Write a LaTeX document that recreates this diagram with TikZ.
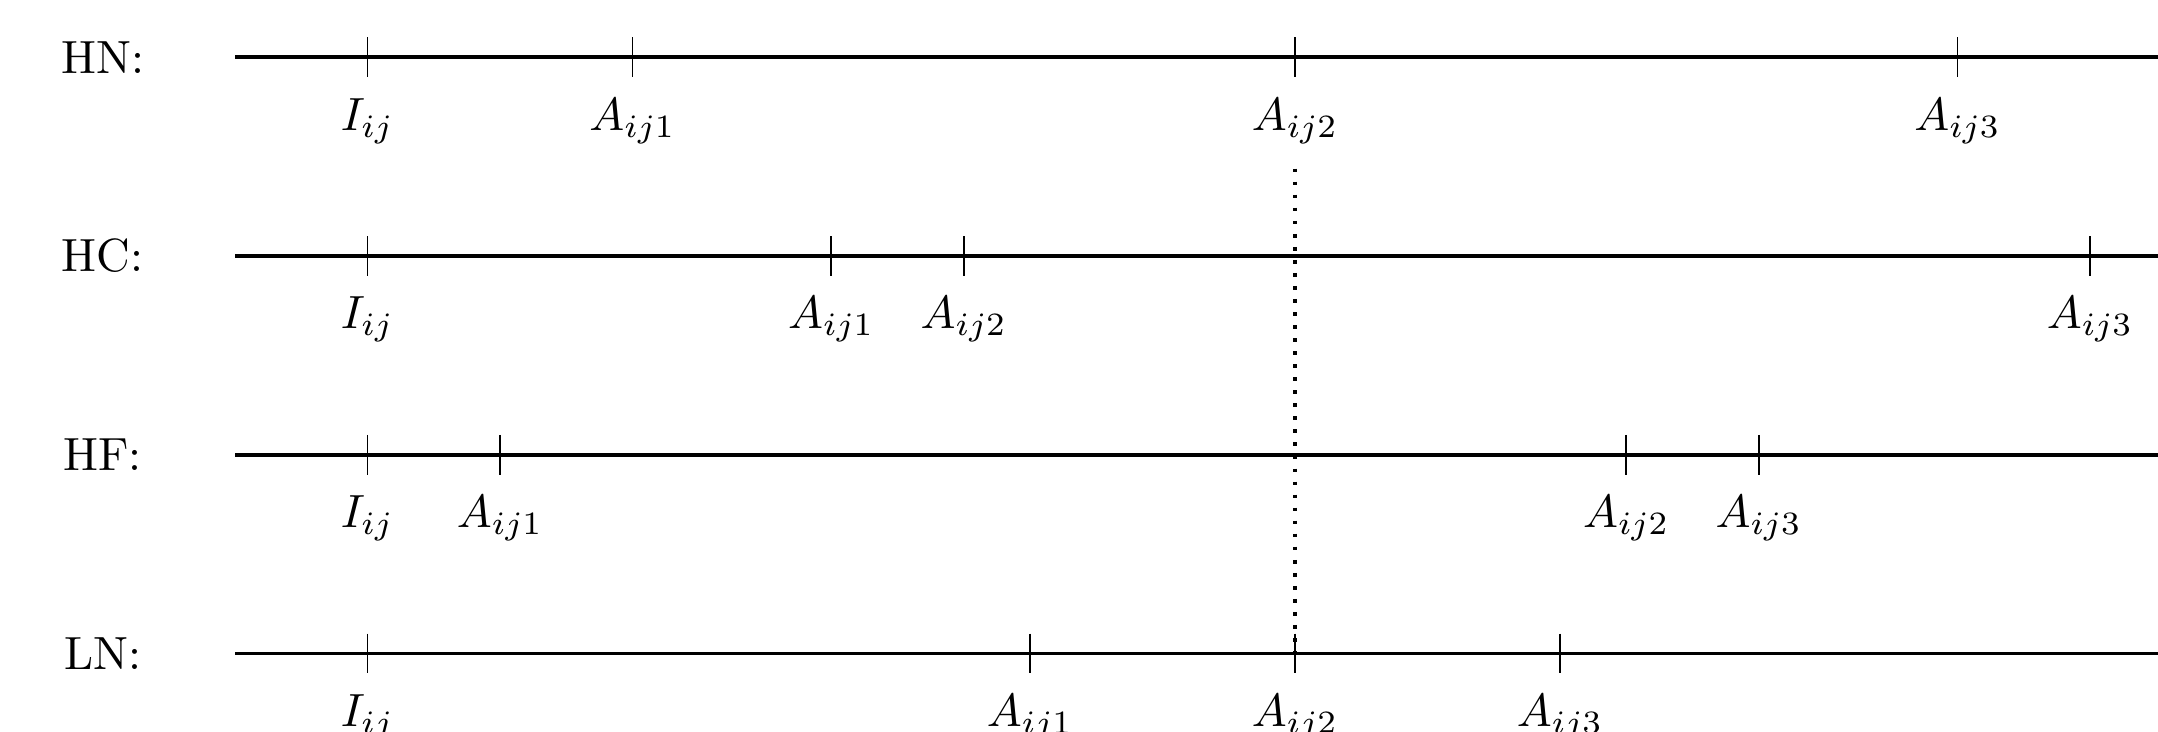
\documentclass[tikz,border=0pt]{standalone}
\usepackage{amsmath,amssymb}
\usepackage{tikz}
\usetikzlibrary{positioning}

\begin{document}
\begin{tikzpicture}[
  axis/.style={thick},
  tick/.style={thin},
  lab/.style={below, yshift=-1pt},
  guide/.style={thick, dotted}
]
\useasboundingbox (-2.774,-5.092) rectangle (13.513,0.4325);
\clip (-2.774,-5.092) rectangle (13.513,0.4325);

% HN
\node (hn) at (-2,0) {HN:};
\coordinate (hnS) at (-1,0);
\coordinate (hnE) at (14,0);
\coordinate (hnI) at (0,0);
\coordinate (hnA1) at (2,0);
\coordinate (hnA2) at (7,0);
\coordinate (hnA3) at (12,0);
\draw[axis] (hnS) -- (hnE);
\draw[tick] (hnI) ++(0,.15) -- ++(0,-.3) node[lab] {$I_{ij}$};
\draw[tick] (hnA1) ++(0,.15) -- ++(0,-.3) node[lab] {$A_{ij1}$};
\draw[tick] (hnA2) ++(0,.15) -- ++(0,-.3) node[lab] {$A_{ij2}$};
\draw[tick] (hnA3) ++(0,.15) -- ++(0,-.3) node[lab] {$A_{ij3}$};

% HC
\node (hc) at (-2,-1.5) {HC:};
\coordinate (hcS) at (-1,-1.5);
\coordinate (hcE) at (14,-1.5);
\coordinate (hcI) at (0,-1.5);
\coordinate (hcA1) at (3.5,-1.5);
\coordinate (hcA2) at (4.5,-1.5);
\coordinate (hcA3) at (13,-1.5);
\draw[axis] (hcS) -- (hcE);
\draw[tick] (hcI) ++(0,.15) -- ++(0,-.3) node[lab] {$I_{ij}$};
\draw[tick] (hcA1) ++(0,.15) -- ++(0,-.3) node[lab] {$A_{ij1}$};
\draw[tick] (hcA2) ++(0,.15) -- ++(0,-.3) node[lab] {$A_{ij2}$};
\draw[tick] (hcA3) ++(0,.15) -- ++(0,-.3) node[lab] {$A_{ij3}$};

% HF
\node (hf) at (-2,-3) {HF:};
\coordinate (hfS) at (-1,-3);
\coordinate (hfE) at (14,-3);
\coordinate (hfI) at (0,-3);
\coordinate (hfA1) at (1,-3);
\coordinate (hfA2) at (9.5,-3);
\coordinate (hfA3) at (10.5,-3);
\draw[axis] (hfS) -- (hfE);
\draw[tick] (hfI) ++(0,.15) -- ++(0,-.3) node[lab] {$I_{ij}$};
\draw[tick] (hfA1) ++(0,.15) -- ++(0,-.3) node[lab] {$A_{ij1}$};
\draw[tick] (hfA2) ++(0,.15) -- ++(0,-.3) node[lab] {$A_{ij2}$};
\draw[tick] (hfA3) ++(0,.15) -- ++(0,-.3) node[lab] {$A_{ij3}$};

% LN
\node (ln) at (-2,-4.5) {LN:};
\coordinate (lnS) at (-1,-4.5);
\coordinate (lnE) at (14,-4.5);
\coordinate (lnI) at (0,-4.5);
\coordinate (lnA1) at (5,-4.5);
\coordinate (lnA2) at (7,-4.5);
\coordinate (lnA3) at (9,-4.5);
\draw[axis] (lnS) -- (lnE);
\draw[tick] (lnI) ++(0,.15) -- ++(0,-.3) node[lab] {$I_{ij}$};
\draw[tick] (lnA1) ++(0,.15) -- ++(0,-.3) node[lab] {$A_{ij1}$};
\draw[tick] (lnA2) ++(0,.15) -- ++(0,-.3) node[lab] {$A_{ij2}$};
\draw[tick] (lnA3) ++(0,.15) -- ++(0,-.3) node[lab] {$A_{ij3}$};

% common A_ij2 time
\coordinate (top) at (7,-0.84);
\draw[guide] (top) -- (lnA2);
\end{tikzpicture}
\end{document}
